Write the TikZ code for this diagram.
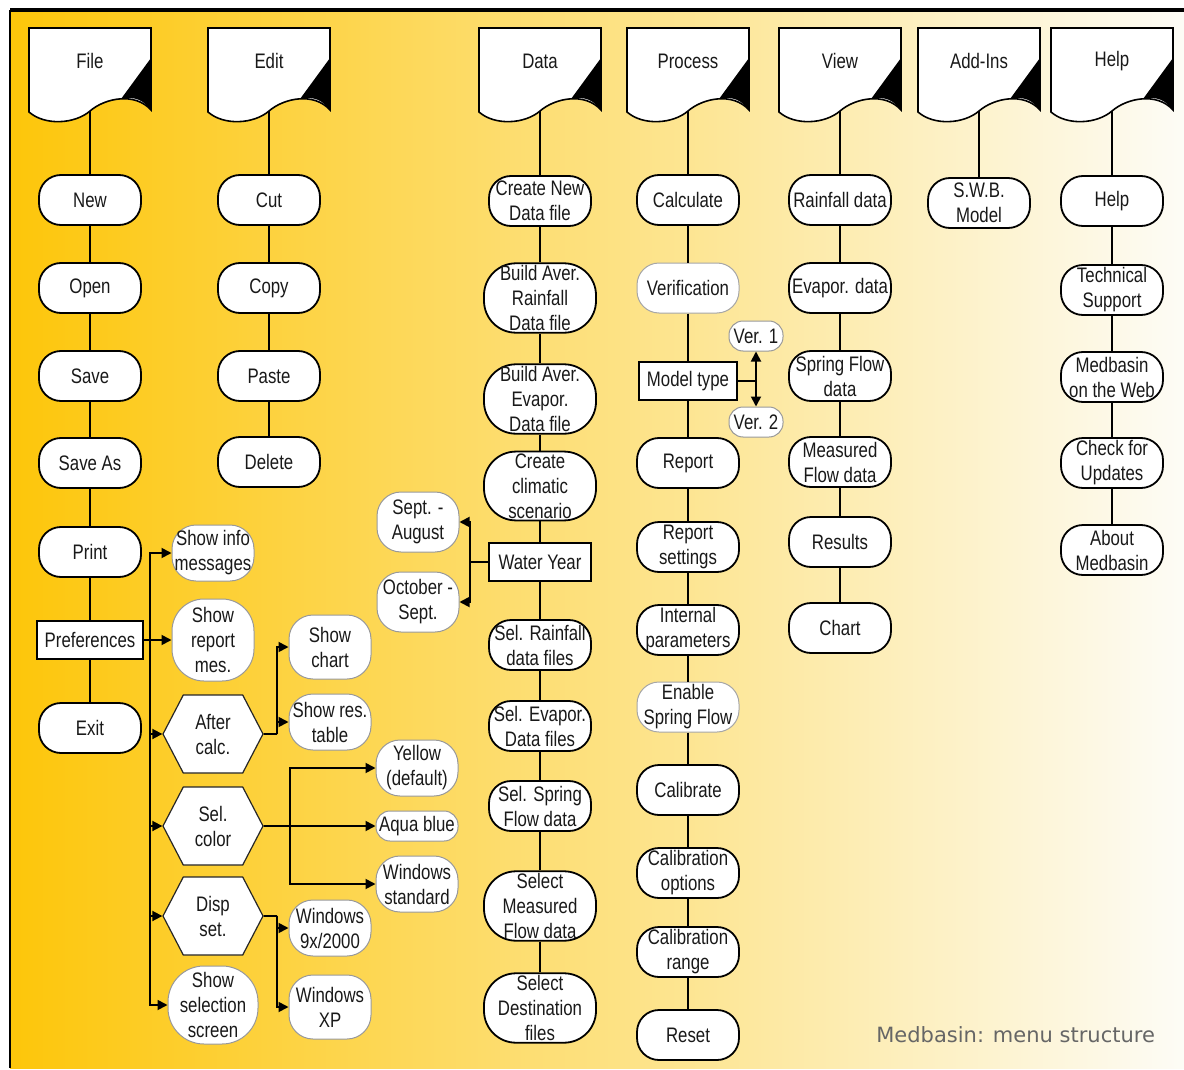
\documentclass[tikz,border=0pt]{standalone}
\usepackage{fontspec}
\setmainfont{Liberation Sans}[FakeStretch=0.8]
\newfontfamily\capfont{DejaVu Sans}
\usetikzlibrary{shapes.symbols, arrows.meta}
\definecolor{bgleft}{RGB}{253,198,10}
\definecolor{bgmid}{RGB}{250,224,112}
\definecolor{bgright}{RGB}{253,252,246}

\begin{document}
\begin{tikzpicture}[x=0.5pt, y=-0.5pt, text=black!90,
    font=\fontsize{10.5}{12.5}\selectfont,
    item/.style={rectangle, rounded corners=11pt, draw=black, line width=0.9pt, fill=white,
        minimum width=51pt, minimum height=25pt, inner xsep=1pt, inner ysep=1pt, align=center},
    tall/.style={item, minimum width=56pt, rounded corners=16pt},
    light/.style={item, draw=black!35, line width=0.5pt},
    opt/.style={item, draw=black!40, line width=0.5pt, minimum width=41pt, minimum height=28pt, rounded corners=12pt},
    hexa/.style={signal, signal to=west and east, signal pointer angle=125, draw=black!85,
        line width=0.6pt, fill=white, minimum width=50pt, minimum height=39pt, inner sep=0pt, align=center},
    box/.style={rectangle, draw=black, line width=0.9pt, fill=white, inner xsep=4pt, minimum height=19pt},
    link/.style={line width=0.9pt},
    arr/.style={-{Triangle[length=5pt, width=5pt]}}]

    \useasboundingbox (0,0) rectangle (1184,1070);

    % Фон
    \shade[left color=bgleft, middle color=bgmid, right color=bgright] (10,10) rectangle (1184,1068);
    \draw[line width=1.6pt] (10,10) -- (1184,10);
    \draw[line width=0.6pt] (10,10) -- (10,1068);

    % Заголовки меню
    \foreach \x/\name/\txt in {90/file/File, 269/edit/Edit, 540/data/Data, 688/proc/Process,
                               840/view/View, 979/addins/Add-Ins, 1112/help/Help} {
        \draw[line width=0.8pt, fill=white] ({\x-61},28) -- ({\x+61},28) -- ({\x+61},110)
            .. controls ({\x+45},92) and ({\x+15},98) .. (\x,111)
            .. controls ({\x-15},124) and ({\x-45},126) .. ({\x-61},112) -- cycle;
        \fill ({\x+61},58) -- ({\x+61},110) .. controls ({\x+53},100) and ({\x+45},96) .. ({\x+31},99) -- cycle;
        \node (\name) at (\x,61) {\txt};
        \coordinate (\name-b) at (\x,111);
    }

    % File
    \foreach \name/\y/\txt in {new/200/New, open/288/Open, save/376/Save, saveas/463/Save As,
                               print/552/Print, exit/728/Exit}
        \node[item] (\name) at (90,\y) {\txt};
    \node[box] (pref) at (90,640) {Preferences};

    % Edit
    \foreach \name/\y/\txt in {cut/200/Cut, copy/288/Copy, paste/376/Paste, delete/462/Delete}
        \node[item] (\name) at (269,\y) {\txt};

    % Data
    \foreach \name/\y/\txt in {dnew/201/Create New\\Data file, srain/645/Sel. Rainfall\\data files,
                               sevap/726/Sel. Evapor.\\Data files, sspring/806/Sel. Spring\\Flow data}
        \node[item] (\name) at (540,\y) {\txt};
    \foreach \name/\y/\txt in {drain/298/Build Aver.\\Rainfall\\Data file, devap/399/Build Aver.\\Evapor.\\Data file,
                               dclim/486/Create\\climatic\\scenario, smeas/906/Select\\Measured\\Flow data,
                               sdest/1008/Select\\Destination\\files}
        \node[tall] (\name) at (540,\y) {\txt};
    \node[box, minimum width=51pt] (wy) at (540,562) {Water Year};

    % Process
    \foreach \name/\y/\txt in {calc/200/Calculate, report/463/Report, rset/547/Report\\settings,
                               intp/630/Internal\\parameters, calib/790/Calibrate, copt/873/Calibration\\options,
                               crange/952/Calibration\\range, reset/1035/Reset}
        \node[item] (\name) at (688,\y) {\txt};
    \node[light] (verif) at (688,288) {Verification};
    \node[light] (spring) at (688,707) {Enable\\Spring Flow};
    \node[box, minimum width=47pt] (model) at (688,381) {Model type};
    \node[opt, minimum width=27pt, minimum height=15pt, rounded corners=7pt] (ver1) at (756,336) {Ver. 1};
    \node[opt, minimum width=27pt, minimum height=15pt, rounded corners=7pt] (ver2) at (756,422) {Ver. 2};

    % View, Add-Ins, Help
    \foreach \name/\y/\txt in {vrain/200/Rainfall data, vevap/288/Evapor. data, vspring/376/Spring Flow\\data,
                               vmeas/462/Measured\\Flow data, vres/542/Results, vchart/628/Chart}
        \node[item] (\name) at (840,\y) {\txt};
    \node[item] (swb) at (979,203) {S.W.B.\\Model};
    \foreach \name/\y/\txt in {hhelp/201/Help, tech/290/Technical\\Support, web/377/Medbasin\\on the Web,
                               upd/463/Check for\\Updates, about/550/About\\Medbasin}
        \node[item] (\name) at (1112,\y) {\txt};

    % Preferences
    \node[opt] (info) at (213,553) {Show info\\messages};
    \node[opt, minimum height=41pt, rounded corners=16pt] (rep) at (213,640) {Show\\report\\mes.};
    \node[hexa] (after) at (213,734) {After\\calc.};
    \node[hexa] (selcol) at (213,826) {Sel.\\color};
    \node[hexa] (disp) at (213,916) {Disp\\set.};
    \node[opt, minimum width=45pt, minimum height=39pt, rounded corners=18pt] (selscr) at (213,1005) {Show\\selection\\screen};
    \node[opt, minimum height=32pt] (chart) at (330,647) {Show\\chart};
    \node[opt] (restab) at (330,722) {Show res.\\table};
    \node[opt] (yellow) at (417,768) {Yellow\\(default)};
    \node[opt, minimum height=15pt, rounded corners=7pt] (aqua) at (417,826) {Aqua blue};
    \node[opt] (winstd) at (417,884) {Windows\\standard};
    \node[opt] (win9x) at (330,928) {Windows\\9x/2000};
    \node[opt, minimum height=32pt] (winxp) at (330,1007) {Windows\\XP};

    % Water Year
    \node[opt, minimum height=30pt] (sept) at (418,522) {Sept. -\\August};
    \node[opt, minimum height=30pt] (octo) at (418,602) {October -\\Sept.};

    % Соединения
    \foreach \a/\b in {file-b/new, new/open, open/save, save/saveas, saveas/print, print/pref, pref/exit,
                       edit-b/cut, cut/copy, copy/paste, paste/delete,
                       data-b/dnew, dnew/drain, drain/devap, devap/dclim, dclim/wy, wy/srain, srain/sevap,
                       sevap/sspring, sspring/smeas, smeas/sdest,
                       proc-b/calc, calc/verif, verif/model, model/report, report/rset, rset/intp, intp/spring,
                       spring/calib, calib/copt, copt/crange, crange/reset,
                       view-b/vrain, vrain/vevap, vevap/vspring, vspring/vmeas, vmeas/vres, vres/vchart,
                       addins-b/swb, help-b/hhelp, hhelp/tech, tech/web, web/upd, upd/about}
        \draw[link] (\a) -- (\b);

    \coordinate (ptrunk) at (150,640);
    \draw[link, arr] (pref) -- (rep);
    \foreach \t in {info, after, selcol, disp, selscr}
        \draw[link, arr] (ptrunk) |- (\t);

    \coordinate (abr) at (277,734);
    \draw[link] (after) -- (abr);
    \draw[link, arr] (abr) |- (chart);
    \draw[link, arr] (abr) |- (restab);

    \coordinate (cbr) at (290,826);
    \draw[link, arr] (selcol) -- (aqua);
    \draw[link, arr] (cbr) |- (yellow);
    \draw[link, arr] (cbr) |- (winstd);

    \coordinate (dbr) at (277,916);
    \draw[link] (disp) -- (dbr);
    \draw[link, arr] (dbr) |- (win9x);
    \draw[link, arr] (dbr) |- (winxp);

    \coordinate (wbr) at (470,562);
    \draw[link] (wy) -- (wbr);
    \draw[link, arr] (wbr) |- (sept);
    \draw[link, arr] (wbr) |- (octo);

    \coordinate (mbr) at (756,381);
    \draw[link] (model) -- (mbr);
    \draw[link, arr] (mbr) -- (ver1);
    \draw[link, arr] (mbr) -- (ver2);

    % Подпись
    \node[font=\capfont\fontsize{10.5}{12}\selectfont, text=black!60, anchor=east] (caption) at (1162,1035) {Medbasin: menu structure};

\end{tikzpicture}
\end{document}
